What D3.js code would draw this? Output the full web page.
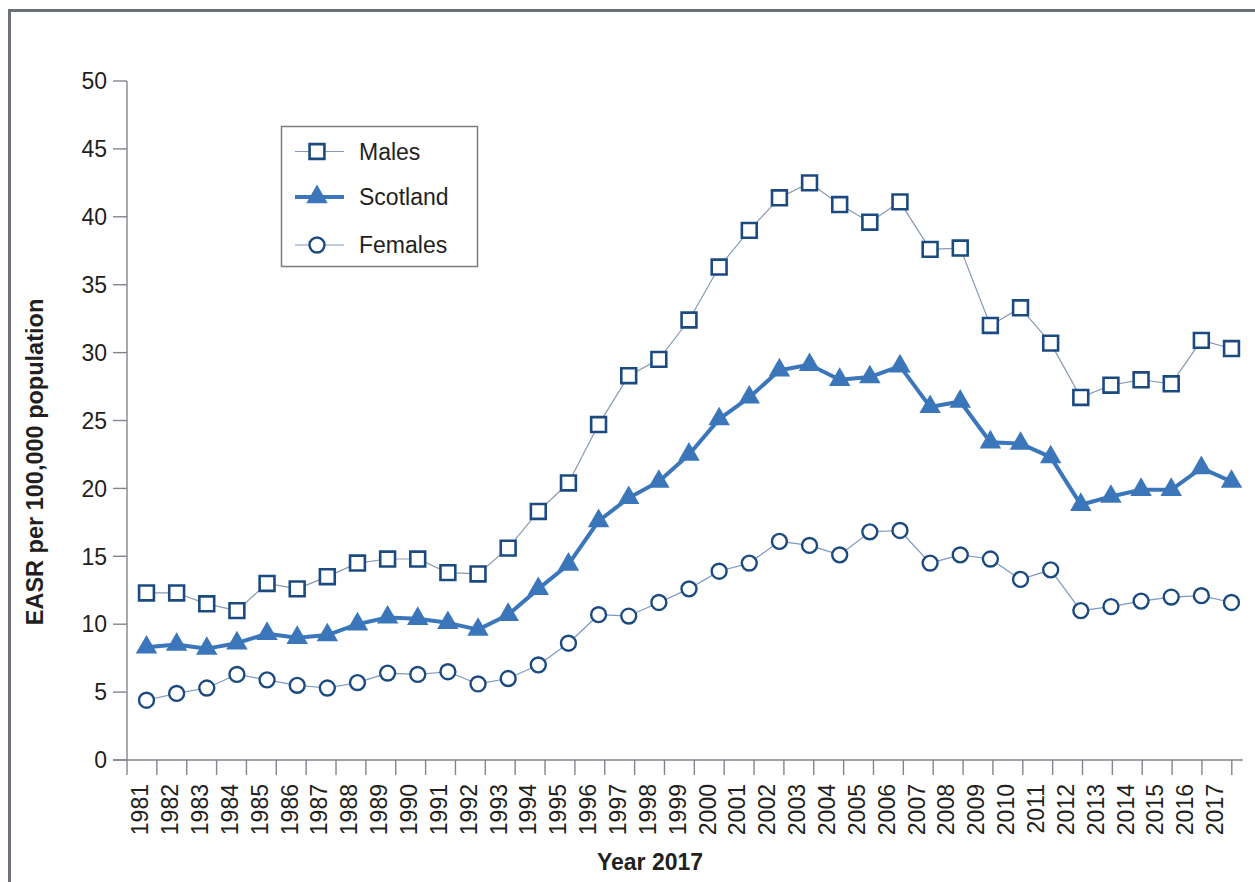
<html>
<head>
<title> EASR per 100,000 </title>
<script src="https://d3js.org/d3.v7.min.js"></script>
<style>
body { margin: 0; background: #fff; }
text { font-family: "Liberation Sans", Arial, sans-serif; fill: #231f20; }
.axis line, .axis path { stroke: #80858c; stroke-width: 1.4; fill: none; }
</style>
</head>
<body>
<script>

// Data
var years = [1981,1982,1983,1984,1985,1986,1987,1988,1989,1990,
             1991,1992,1993,1994,1995,1996,1997,1998,1999,2000,
             2001,2002,2003,2004,2005,2006,2007,2008,2009,2010,
             2011,2012,2013,2014,2015,2016,2017];
var males = [12.3,12.3,11.5,11.0,13.0,12.6,13.5,14.5,14.8,14.8,
             13.8,13.7,15.6,18.3,20.4,24.7,28.3,29.5,32.4,36.3,
             39.0,41.4,42.5,40.9,39.6,41.1,37.6,37.7,32.0,33.3,
             30.7,26.7,27.6,28.0,27.7,30.9,30.3];
var scotland = [8.3,8.5,8.2,8.6,9.3,9.0,9.2,10.0,10.5,10.4,
                10.1,9.6,10.7,12.6,14.4,17.6,19.3,20.5,22.5,25.1,
                26.7,28.7,29.1,28.0,28.2,29.0,26.0,26.4,23.4,23.3,
                22.3,18.8,19.4,19.9,19.9,21.5,20.5];
var females = [4.4,4.9,5.3,6.3,5.9,5.5,5.3,5.7,6.4,6.3,
               6.5,5.6,6.0,7.0,8.6,10.7,10.6,11.6,12.6,13.9,
               14.5,16.1,15.8,15.1,16.8,16.9,14.5,15.1,14.8,13.3,
               14.0,11.0,11.3,11.7,12.0,12.1,11.6];
var yTicks = [0,5,10,15,20,25,30,35,40,45,50];
var seriesNames = ["Males", "Scotland", "Females"];

var W = 1255, H = 882;
var svg = d3.select("body").append("svg")
    .attr("width", W).attr("height", H);

// outer frame
svg.append("rect")
    .attr("x", 9.5).attr("y", 10.5)
    .attr("width", 1300).attr("height", 1000)
    .attr("fill", "none")
    .attr("stroke", "#6c7077")
    .attr("stroke-width", 3);

// scales
var y = d3.scaleLinear().domain([0, 50]).range([760, 81]);
var xBand = d3.scaleBand().domain(years).range([127, 1231.8]);
var x = d3.scalePoint().domain(years).range([146.5, 1231.5]);

// y axis
var yAxis = svg.append("g").attr("class", "axis");
yAxis.append("line")
    .attr("x1", 127).attr("x2", 127)
    .attr("y1", y(50)).attr("y2", 775);
yAxis.selectAll(".tk").data(yTicks).enter().append("line")
    .attr("x1", 113).attr("x2", 127)
    .attr("y1", function(d) { return y(d); })
    .attr("y2", function(d) { return y(d); });
yAxis.selectAll("text").data(yTicks).enter().append("text")
    .attr("x", 107)
    .attr("y", function(d) { return y(d); })
    .attr("dy", "0.36em")
    .attr("text-anchor", "end")
    .attr("font-size", "23px")
    .text(function(d) { return d; });

// x axis
var xAxis = svg.append("g").attr("class", "axis");
xAxis.append("line")
    .attr("x1", 113).attr("x2", 1243)
    .attr("y1", y(0)).attr("y2", y(0));
xAxis.selectAll(".tk").data(years).enter().append("line")
    .attr("x1", function(d) { return xBand(d) + xBand.bandwidth(); })
    .attr("x2", function(d) { return xBand(d) + xBand.bandwidth(); })
    .attr("y1", y(0)).attr("y2", 775);
xAxis.selectAll("text").data(years).enter().append("text")
    .attr("transform", function(d) {
        return "translate(" + (xBand(d) + xBand.bandwidth() / 2 - 2) + ",784) rotate(-90)";
    })
    .attr("dy", "0.36em")
    .attr("text-anchor", "end")
    .attr("font-size", "23px")
    .text(function(d) { return d; });

// axis titles
svg.append("text")
    .attr("transform", "translate(43,462) rotate(-90)")
    .attr("text-anchor", "middle")
    .attr("font-size", "23.5px")
    .attr("font-weight", "bold")
    .text("EASR per 100,000 population");
svg.append("text")
    .attr("x", 650).attr("y", 870)
    .attr("text-anchor", "middle")
    .attr("font-size", "23px")
    .attr("font-weight", "bold")
    .text("Year 2017");

// styles per series
var styles = {
    Males:    { line: "#8799b4", lw: 1.2, symbol: d3.symbolSquare, size: 220, fill: "#fff", stroke: "#1b4a80", sw: 2.6 },
    Scotland: { line: "#3b76ba", lw: 4,   symbol: d3.symbolTriangle, size: 200, fill: "#3b76ba", stroke: "none", sw: 0 },
    Females:  { line: "#7c98c0", lw: 1.2, symbol: d3.symbolCircle, size: 175, fill: "#fff", stroke: "#1b4a80", sw: 2.4 }
};
var seriesData = { Males: males, Scotland: scotland, Females: females };

var line = d3.line()
    .x(function(d, i) { return x(years[i]); })
    .y(function(d) { return y(d); });

seriesNames.forEach(function(name) {
    var s = styles[name], vals = seriesData[name];
    var g = svg.append("g");
    g.append("path")
        .datum(vals)
        .attr("d", line)
        .attr("fill", "none")
        .attr("stroke", s.line)
        .attr("stroke-width", s.lw)
        .attr("stroke-linejoin", "round");
    g.selectAll(".mk").data(vals).enter().append("path")
        .attr("d", d3.symbol().type(s.symbol).size(s.size))
        .attr("transform", function(d, i) { return "translate(" + x(years[i]) + "," + y(d) + ")"; })
        .attr("fill", s.fill)
        .attr("stroke", s.stroke)
        .attr("stroke-width", s.sw);
});

// legend
var lg = svg.append("g");
lg.append("rect")
    .attr("x", 281.5).attr("y", 126.5)
    .attr("width", 196).attr("height", 140)
    .attr("fill", "#fff")
    .attr("stroke", "#7a7d82")
    .attr("stroke-width", 1.5);
var legendY = [151.5, 197, 245];
seriesNames.forEach(function(name, i) {
    var s = styles[name];
    lg.append("line")
        .attr("x1", 295).attr("x2", 344)
        .attr("y1", legendY[i]).attr("y2", legendY[i])
        .attr("stroke", s.line)
        .attr("stroke-width", s.lw);
    lg.append("path")
        .attr("d", d3.symbol().type(s.symbol).size(s.size)())
        .attr("transform", "translate(317," + legendY[i] + ")")
        .attr("fill", s.fill)
        .attr("stroke", s.stroke)
        .attr("stroke-width", s.sw);
    lg.append("text")
        .attr("x", 359).attr("y", legendY[i])
        .attr("dy", "0.36em")
        .attr("font-size", "23px")
        .text(name);
});

</script>
</body>
</html>
